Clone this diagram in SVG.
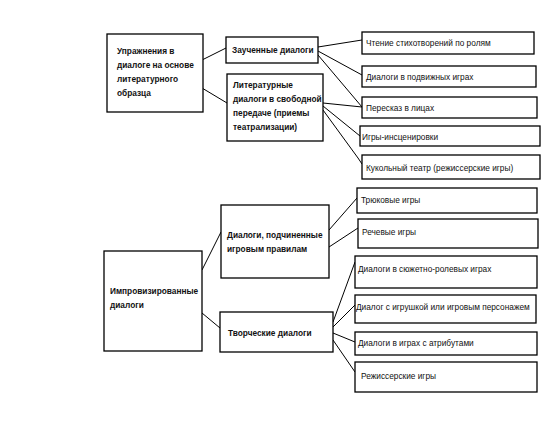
<svg xmlns="http://www.w3.org/2000/svg" width="560" height="435" viewBox="0 0 560 435">
<style>
.box{fill:#fff;stroke:#000;stroke-width:1.3}
.b{font-family:"Liberation Sans",Arial,sans-serif;font-size:8.3px;font-weight:bold;fill:#111}
.n{font-family:"Liberation Sans",Arial,sans-serif;font-size:8.3px;fill:#111}
.c{fill:none;stroke:#000;stroke-width:1}
</style>
<rect width="560" height="435" fill="#fff"/>
<g id="connectors">
<path class="c" d="M202,60 L226,48"/>
<path class="c" d="M202,88 L227,103"/>
<path class="c" d="M318,47 L362,40"/>
<path class="c" d="M318,51 L362,75"/>
<path class="c" d="M318,55 L362,107"/>
<path class="c" d="M323,103 L362,107"/>
<path class="c" d="M323,106 L360,136"/>
<path class="c" d="M323,110 L358,158 L362,164"/>
<path class="c" d="M202,270 L221,232"/>
<path class="c" d="M202,313 L220,328"/>
<path class="c" d="M329,230 L357,198"/>
<path class="c" d="M329,247 L358,228"/>
<path class="c" d="M333,322 L355,262"/>
<path class="c" d="M333,327 L355,305"/>
<path class="c" d="M333,333 L355,342"/>
<path class="c" d="M333,340 L355,372"/>
</g>
<g id="n-a"><rect class="box" x="107" y="34" width="96" height="78"/>
<text class="b" x="117" y="54">Упражнения в</text><text class="b" x="117" y="68">диалоге на основе</text><text class="b" x="117" y="82">литературного</text><text class="b" x="117" y="96">образца</text></g>
<g id="n-b"><rect class="box" x="226" y="37" width="92" height="26"/>
<text class="b" x="232" y="53">Заученные диалоги</text></g>
<g id="n-c"><rect class="box" x="227" y="74" width="96" height="67"/>
<text class="b" x="233" y="88">Литературные</text><text class="b" x="233" y="102">диалоги в свободной</text><text class="b" x="233" y="116">передаче (приемы</text><text class="b" x="233" y="130">театрализации)</text></g>
<g id="n-r1"><rect class="box" x="362" y="32" width="172" height="22"/><text class="n" x="366" y="46">Чтение стихотворений по ролям</text></g>
<g id="n-r2"><rect class="box" x="362" y="66" width="174" height="21"/><text class="n" x="366" y="80">Диалоги в подвижных играх</text></g>
<g id="n-r3"><rect class="box" x="362" y="97" width="175" height="21"/><text class="n" x="366" y="111">Пересказ в лицах</text></g>
<g id="n-r4"><rect class="box" x="360" y="126" width="180" height="20"/><text class="n" x="362" y="140">Игры-инсценировки</text></g>
<g id="n-r5"><rect class="box" x="362" y="155" width="178" height="24"/><text class="n" x="366" y="171">Кукольный театр (режиссерские игры)</text></g>
<g id="n-r6"><rect class="box" x="357" y="188" width="180" height="25"/><text class="n" x="361" y="203">Трюковые игры</text></g>
<g id="n-r7"><rect class="box" x="358" y="219" width="180" height="29"/><text class="n" x="362" y="235">Речевые игры</text></g>
<g id="n-r8"><rect class="box" x="355" y="256" width="182" height="32"/><text class="n" x="358" y="272">Диалоги в сюжетно-ролевых играх</text></g>
<g id="n-r9"><rect class="box" x="355" y="295" width="181" height="28"/><text class="n" x="356" y="310">Диалог с игрушкой или игровым персонажем</text></g>
<g id="n-r10"><rect class="box" x="355" y="332" width="182" height="23"/><text class="n" x="358" y="346">Диалоги в играх с атрибутами</text></g>
<g id="n-r11"><rect class="box" x="355" y="362" width="182" height="30"/><text class="n" x="361" y="379">Режиссерские игры</text></g>
<g id="n-imp"><rect class="box" x="104" y="251" width="98" height="100"/>
<text class="b" x="110" y="294">Импровизированные</text><text class="b" x="110" y="308">диалоги</text></g>
<g id="n-rules"><rect class="box" x="221" y="205" width="108" height="73"/>
<text class="b" x="227" y="238">Диалоги, подчиненные</text><text class="b" x="227" y="252">игровым правилам</text></g>
<g id="n-creative"><rect class="box" x="220" y="312" width="113" height="40"/>
<text class="b" x="228" y="336">Творческие диалоги</text></g>
</svg>
